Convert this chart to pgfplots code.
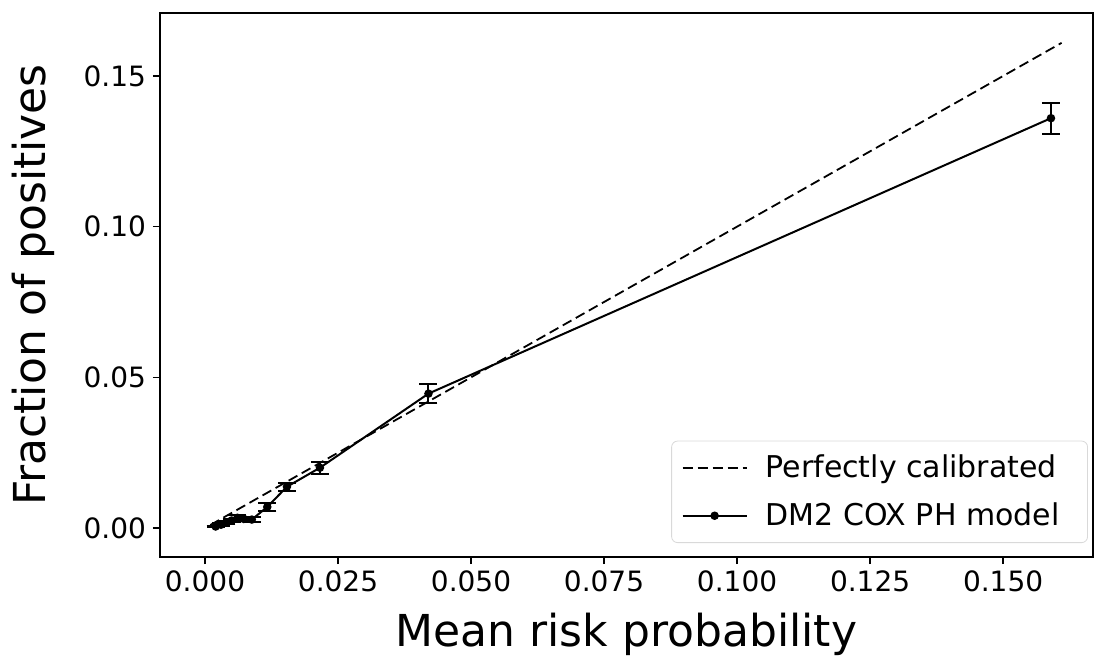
\documentclass[border=0pt]{standalone}
\usepackage{pgfplots}
\pgfplotsset{compat=1.18}
\usepackage{fontspec}
\setmainfont{DejaVu Sans}
\begin{document}
\begin{tikzpicture}
\begin{axis}[
  at={(0,0)}, anchor=south west,
  scale only axis, width=466.5pt, height=272pt,
  xmin=-0.00846, xmax=0.1669, ymin=-0.00962, ymax=0.1709,
  xtick={0,0.025,0.05,0.075,0.1,0.125,0.15},
  ytick={0,0.05,0.1,0.15},
  xticklabel style={/pgf/number format/.cd, fixed, fixed zerofill, precision=3, assume math mode=true},
  yticklabel style={/pgf/number format/.cd, fixed, fixed zerofill, precision=2, assume math mode=true},
  scaled ticks=false,
  tick label style={font=\fontsize{14}{16}\selectfont},
  tick align=outside, tickpos=left, major tick length=3.5pt,
  every tick/.style={black, line width=0.8pt},
  axis line style={line width=1.2pt},
  every axis x label/.style={at={(axis description cs:0.5,-0.143)}, anchor=center, font=\fontsize{22}{26}\selectfont},
  every axis y label/.style={at={(axis description cs:-0.136,0.5)}, anchor=center, rotate=90, font=\fontsize{22}{26}\selectfont},
  xlabel={Mean risk probability},
  ylabel={Fraction of positives},
  legend style={at={(0.9946,0.0257)}, anchor=south east, draw=black!15, rounded corners=3pt, font=\fontsize{15}{17}\selectfont, row sep=7pt, inner xsep=5pt, inner ysep=5pt, nodes={inner xsep=9pt}},
  legend cell align=left,
  legend image code/.code={\draw[mark repeat=2, mark phase=2, #1] plot coordinates {(0pt,0pt) (16pt,0pt) (32pt,0pt)};},
]
\addplot[black, line width=0.9pt, dash pattern=on 5pt off 2.5pt] coordinates {(0.0010,0.0010) (0.1610,0.1610)};
\addlegendentry{Perfectly calibrated}
\addplot[black, line width=1pt, mark=*, mark size=1.6pt,
  error bars/.cd, y dir=both, y explicit,
  error bar style={line width=1pt},
  error mark options={rotate=90, mark size=4.5pt, line width=1pt}]
  table[x=x, y=y, y error=e] {
x y e
0.0020 0.0005 0.0003
0.0030 0.0011 0.0004
0.0040 0.0018 0.0005
0.0050 0.0025 0.0006
0.0061 0.0034 0.0008
0.0073 0.0030 0.0008
0.0088 0.0028 0.0009
0.0117 0.0070 0.0012
0.0154 0.0137 0.0014
0.0216 0.0200 0.0020
0.0420 0.0446 0.0032
0.1590 0.1360 0.0051
};
\addlegendentry{DM2 COX PH model}
\end{axis}
\pgfresetboundingbox
\path[use as bounding box] (-80pt,-54pt) rectangle (468pt,278.5pt);
\end{tikzpicture}
\end{document}
